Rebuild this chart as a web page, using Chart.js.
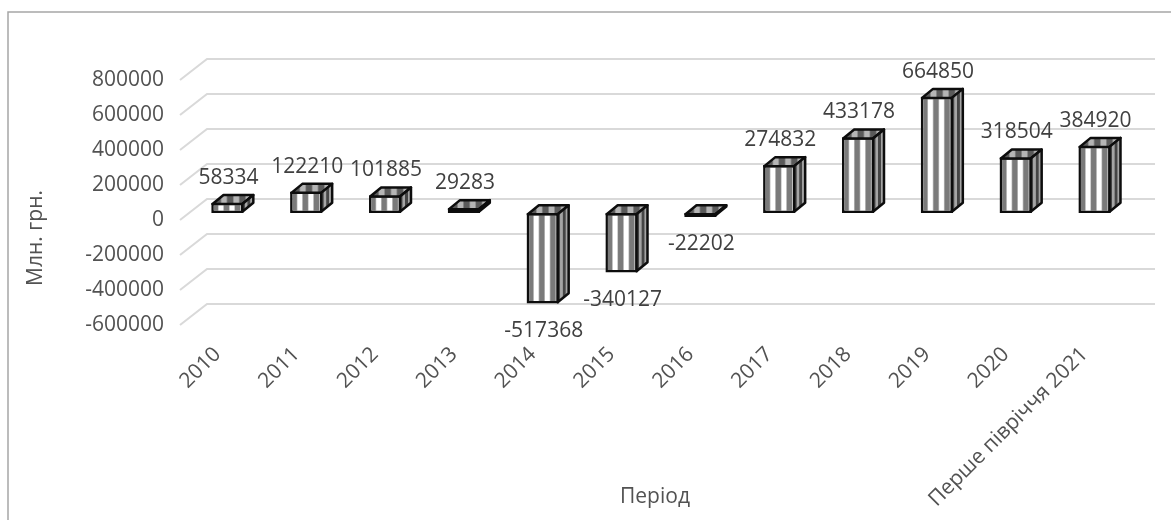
<!DOCTYPE html>
<html>
<head>
<meta charset="utf-8">
<script src="https://cdn.jsdelivr.net/npm/chart.js@4.4.1/dist/chart.umd.min.js"></script>
<style>
  html, body { margin: 0; padding: 0; background: #fff; }
  #wrap { position: relative; width: 1171px; height: 520px; }
</style>
</head>
<body>
<div id="wrap"><canvas id="balance-chart"></canvas></div>
<script>
const periods = ['2010', '2011', '2012', '2013', '2014', '2015', '2016', '2017', '2018', '2019', '2020', 'Перше півріччя 2021'];
const balance = [58334, 122210, 101885, 29283, -517368, -340127, -22202, 274832, 433178, 664850, 318504, 384920];
const yMin = -600000;
const yMax = 800000;
const yStep = 200000;
const yTitle = 'Млн. грн.';
const xTitle = 'Період';

const FONT = '"Open Sans", "Noto Sans", sans-serif';
const FONT_SIZE = 21;
const AXIS_COLOR = '#525252';
const BAR_PCT = 0.41;
const EDGE = 2.5;
// fake 3D: depth offset of each bar
const DEPTH_X = 11, DEPTH_Y = 9;

const stripes = (ctx, x1, x2, dark, light, n) => {
  const g = ctx.createLinearGradient(x1, 0, x2, 0);
  for (let i = 0; i < n; i++) {
    const a = i / n, b = (i + 1) / n, w = b - a;
    g.addColorStop(a, dark);
    g.addColorStop(a + w * 0.38, dark);
    g.addColorStop(a + w * 0.52, light);
    g.addColorStop(a + w * 0.86, light);
    g.addColorStop(b, dark);
  }
  return g;
};

const frontFill = (c) => {
  const chart = c.chart;
  const xs = chart.scales.x;
  if (!chart.chartArea || !xs) return '#bfbfbf';
  const cx = xs.getPixelForValue(c.dataIndex);
  const half = xs.width / periods.length * BAR_PCT / 2;
  return stripes(chart.ctx, cx - half + 2, cx + half + 3, '#7a7a7a', '#ffffff', 3);
};

const framePlugin = {
  id: 'frame',
  beforeDraw(chart) {
    const { ctx } = chart;
    ctx.save();
    ctx.strokeStyle = '#a6a6a6';
    ctx.lineWidth = 1.5;
    ctx.strokeRect(8, 12, 3000, 3000);
    ctx.restore();
  }
};

const wallPlugin = {
  id: 'wall',
  beforeDatasetsDraw(chart) {
    const { ctx, chartArea, scales: { y } } = chart;
    ctx.save();
    ctx.strokeStyle = '#d9d9d9';
    ctx.lineWidth = 2;
    y.ticks.forEach(t => {
      const py = y.getPixelForValue(t.value);
      ctx.beginPath();
      ctx.moveTo(chartArea.left - 8, py + 7);
      ctx.lineTo(chartArea.left + 19, py - 14);
      ctx.lineTo(chartArea.right + 21, py - 14);
      ctx.stroke();
    });
    ctx.restore();
  }
};

const boxPlugin = {
  id: 'box',
  afterDatasetsDraw(chart) {
    const { ctx } = chart;
    const meta = chart.getDatasetMeta(0);
    ctx.save();
    ctx.lineWidth = EDGE;
    ctx.lineJoin = 'round';
    ctx.strokeStyle = '#0d0d0d';
    meta.data.forEach((el, i) => {
      const { x, y, base, width } = el.getProps(['x', 'y', 'base', 'width'], true);
      const x1 = x - width / 2 + EDGE / 2, x2 = x + width / 2 - EDGE / 2;
      const top = Math.min(y, base) + EDGE / 2, bottom = Math.max(y, base) - EDGE / 2;

      // top face
      ctx.beginPath();
      ctx.moveTo(x1, top);
      ctx.lineTo(x1 + DEPTH_X, top - DEPTH_Y);
      ctx.lineTo(x2 + DEPTH_X, top - DEPTH_Y);
      ctx.lineTo(x2, top);
      ctx.closePath();
      ctx.fillStyle = stripes(ctx, x1 + 3, x2 + DEPTH_X - 1, '#5a5a5a', '#b5b5b5', 3);
      ctx.fill();
      ctx.stroke();

      // right side face
      ctx.beginPath();
      ctx.moveTo(x2, top);
      ctx.lineTo(x2 + DEPTH_X, top - DEPTH_Y);
      ctx.lineTo(x2 + DEPTH_X, bottom - DEPTH_Y);
      ctx.lineTo(x2, bottom);
      ctx.closePath();
      ctx.fillStyle = stripes(ctx, x2, x2 + DEPTH_X, '#454545', '#a5a5a5', 2);
      ctx.fill();
      ctx.stroke();

      // value label
      const v = balance[i];
      ctx.fillStyle = '#404040';
      ctx.font = FONT_SIZE + 'px ' + FONT;
      ctx.textAlign = 'center';
      ctx.textBaseline = 'middle';
      const ly = v >= 0 ? Math.min(y, base) - 25 : Math.max(y, base) + 27;
      ctx.fillText(String(v), x + 1, ly);
    });
    ctx.restore();
  }
};

const titlePlugin = {
  id: 'titles',
  afterDraw(chart) {
    const { ctx } = chart;
    ctx.save();
    ctx.fillStyle = AXIS_COLOR;
    ctx.font = FONT_SIZE + 'px ' + FONT;
    ctx.textAlign = 'center';
    ctx.textBaseline = 'middle';
    ctx.fillText(xTitle, 655, 497);
    ctx.translate(36, 238);
    ctx.rotate(-Math.PI / 2);
    ctx.fillText(yTitle, 0, 0);
    ctx.restore();
  }
};

new Chart(document.getElementById('balance-chart'), {
  type: 'bar',
  data: {
    labels: periods,
    datasets: [{
      data: balance,
      backgroundColor: frontFill,
      borderColor: '#0d0d0d',
      borderWidth: EDGE,
      borderSkipped: false,
      categoryPercentage: 1,
      barPercentage: BAR_PCT
    }]
  },
  options: {
    responsive: true,
    maintainAspectRatio: false,
    animation: false,
    layout: { padding: { top: 73, right: 37, bottom: 0, left: 0 } },
    plugins: {
      legend: { display: false },
      tooltip: { enabled: false }
    },
    scales: {
      x: {
        grid: { display: false, drawTicks: false },
        border: { display: false },
        ticks: {
          autoSkip: false,
          minRotation: 45,
          maxRotation: 45,
          padding: 24,
          labelOffset: -10,
          color: AXIS_COLOR,
          font: { family: FONT, size: FONT_SIZE }
        },
        afterFit: (s) => { s.height = 202; }
      },
      y: {
        min: yMin,
        max: yMax,
        grid: { display: false, drawTicks: false },
        border: { display: false },
        ticks: {
          stepSize: yStep,
          padding: 24,
          labelOffset: 7,
          color: AXIS_COLOR,
          font: { family: FONT, size: FONT_SIZE },
          callback: (v) => String(v)
        },
        afterFit: (s) => { s.width = 188; }
      }
    }
  },
  plugins: [framePlugin, wallPlugin, boxPlugin, titlePlugin]
});
</script>
</body>
</html>
